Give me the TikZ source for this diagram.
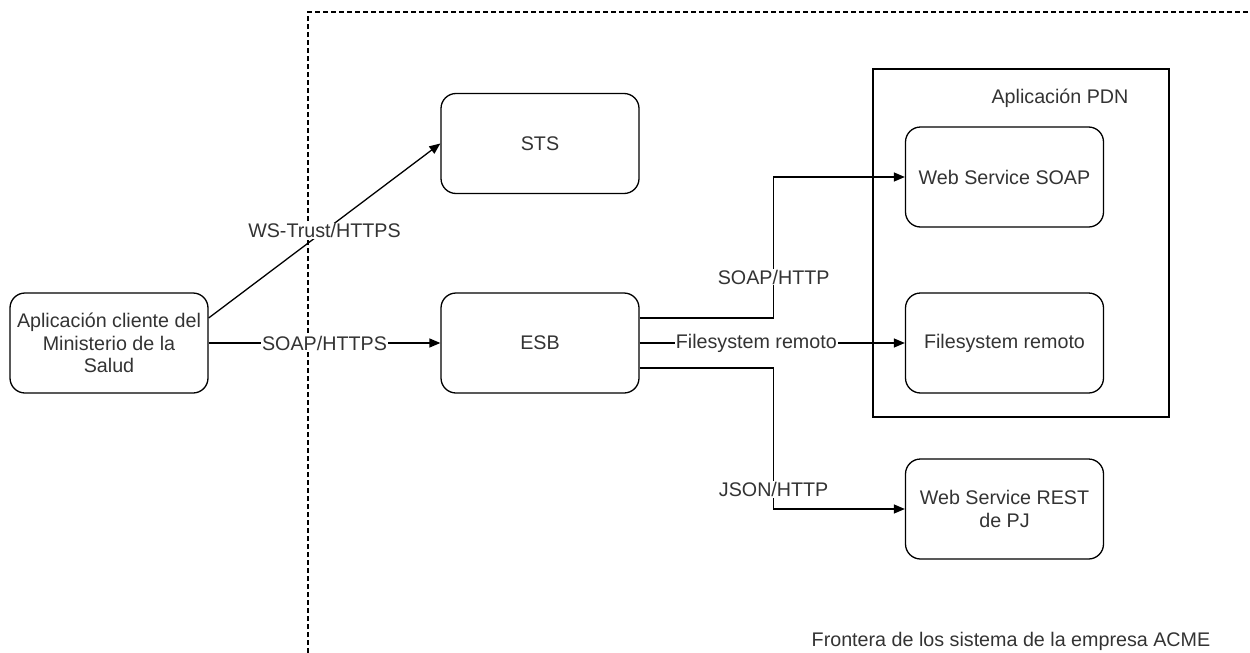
\documentclass[tikz,border=0pt]{standalone}
\usepackage{fontspec}
\setmainfont{Liberation Sans}
\usetikzlibrary{arrows.meta,calc}
\definecolor{txt}{RGB}{51,51,51}
\begin{document}
\begin{tikzpicture}[x=1pt,y=-1pt,
  every node/.style={font=\fontsize{19.7}{22.5}\selectfont, text=txt},
  box/.style={draw, line width=1.3pt, rounded corners=15pt, minimum width=198pt, minimum height=100pt, align=center, inner sep=1pt},
  lbl/.style={fill=white, inner sep=1pt},
  arr/.style={line width=1.3pt, -{Triangle[length=11pt,width=9pt]}},
  ln/.style={line width=1.3pt}
]
\useasboundingbox (0,0) rectangle (1250,653);
% boundary
\draw[line width=1.1pt, dash pattern=on 5pt off 3pt] (308,653) -- (308,12) -- (1250,12);
\node[anchor=center] (front) at (1011,641) {Frontera de los sistema de la empresa ACME};
% PDN container
\draw[line width=1.3pt] (873,69) rectangle (1169,417);
\node (pdn) at (1060,98) {Aplicación PDN};
% nodes
\node[box] (cli) at (109,343) {Aplicación cliente del\\Ministerio de la\\Salud};
\node[box] (sts) at (540,143.5) {STS};
\node[box] (esb) at (540,343) {ESB};
\node[box] (wss) at (1004.5,177) {Web Service SOAP};
\node[box] (fs) at (1004.5,343) {Filesystem remoto};
\node[box] (rest) at (1004.5,509) {Web Service REST\\de PJ};
% connectors
\draw[arr] ([yshift=25pt]cli.east) -- node[pos=0.5,lbl]{WS-Trust/HTTPS} (sts.west);
\draw[arr] (cli.east) -- node[pos=0.5,lbl]{SOAP/HTTPS} (esb.west);
\draw[arr] ([yshift=25pt]esb.east) -- ++(134,0) coordinate (c1)
  -- node[pos=0.29,lbl]{SOAP/HTTP} (c1 |- wss.west) -- (wss.west);
\draw[arr] (esb.east) -- node[pos=0.44,lbl]{Filesystem remoto} (fs.west);
\draw[arr] ([yshift=-25pt]esb.east) -- ++(134,0) coordinate (c2)
  -- node[pos=0.86,lbl]{JSON/HTTP} (c2 |- rest.west) -- (rest.west);
\end{tikzpicture}
\end{document}
